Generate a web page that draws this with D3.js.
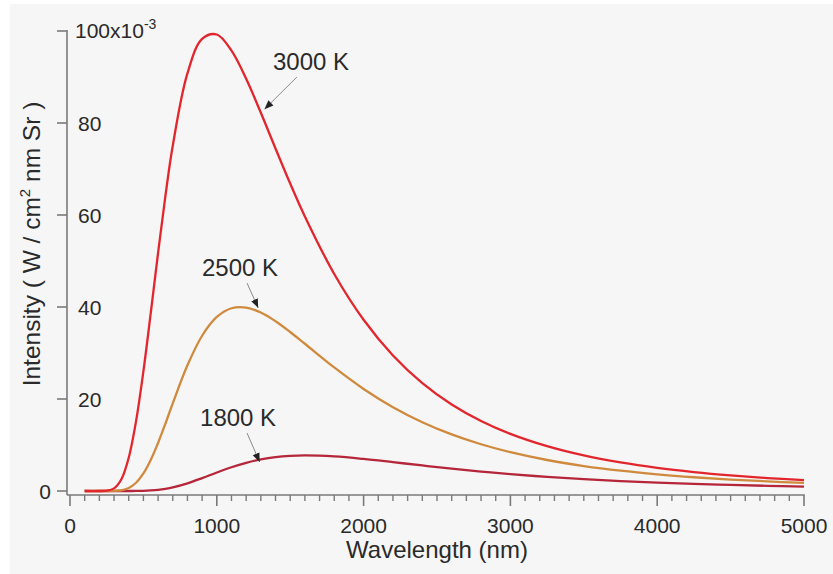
<!DOCTYPE html>
<html>
<head>
<meta charset="utf-8">
<script src="https://cdn.jsdelivr.net/npm/d3@7"></script>
<style>
  html, body { margin: 0; padding: 0; background: #ffffff; }
  svg { display: block; }
  text { font-family: "Liberation Sans", Arial, sans-serif; fill: #2a2a2a; }
</style>
</head>
<body>
<svg id="chart" width="833" height="574"></svg>
<script>
// Wavelength samples (nm)
const wavelengths = [100, 200, 250, 300, 350, 400, 450, 500, 550, 600, 650, 700, 800, 900,
  1000, 1100, 1200, 1300, 1400, 1500, 1600, 1800, 2000, 2200, 2400, 2600, 2800, 3000,
  3250, 3500, 3750, 4000, 4250, 4500, 4750, 5000];

// Spectral radiance, units of 1e-3 W / (cm^2 nm sr)
const intensity3000 = [0, 0, 0.06, 0.56, 2.54, 7.22, 15.18, 26.02, 38.65, 51.75, 64.16, 75.06, 90.78, 98.30,
  99.24, 95.73, 89.62, 82.23, 74.46, 66.84, 59.68, 47.18, 37.22, 29.46, 23.46, 18.82, 15.23, 12.42,
  9.74, 7.72, 6.20, 5.02, 4.11, 3.39, 2.82, 2.37];
const intensity2500 = [0, 0, 0, 0.02, 0.16, 0.66, 1.80, 3.82, 6.76, 10.46, 14.66, 19.05, 27.32, 33.75,
  37.83, 39.73, 39.88, 38.80, 36.91, 34.57, 32.01, 26.86, 22.19, 18.23, 14.96, 12.30, 10.16, 8.44,
  6.74, 5.43, 4.41, 3.62, 2.99, 2.49, 2.09, 1.76];
const intensity1800 = [0, 0, 0, 0, 0, 0, 0.01, 0.04, 0.12, 0.25, 0.47, 0.78, 1.66, 2.80,
  4.02, 5.17, 6.13, 6.87, 7.37, 7.64, 7.74, 7.52, 6.97, 6.27, 5.55, 4.86, 4.23, 3.67,
  3.07, 2.57, 2.16, 1.82, 1.55, 1.32, 1.12, 0.97];

const seriesNames = ["3000 K", "2500 K", "1800 K"];
const seriesColors = ["#e2262e", "#cf8a3e", "#b5263a"];

// Axis ticks
const xTicks = [0, 1000, 2000, 3000, 4000, 5000];
const yTicks = [0, 20, 40, 60, 80, 100];

// Annotation label: text anchor point and arrow (start -> tip), in data units
const labelText = ["3000 K", "2500 K", "1800 K"];
const labelAt = [[1383, 91.6], [899, 46.8], [886, 14.2]];
const arrowFrom = [[1546, 90.0], [1206, 45.2], [1206, 12.6]];
const arrowTo = [[1325, 83.0], [1282, 39.8], [1292, 6.3]];

const svg = d3.select("#chart");

// Panel background
svg.append("rect").attr("x", 10).attr("y", 4).attr("width", 823).attr("height", 570)
  .attr("fill", "#f6f6f6");

const x = d3.scaleLinear().domain([0, 5000]).range([70, 804]);
const y = d3.scaleLinear().domain([0, 100]).range([491, 31]);

const axisColor = "#7a7a7a";
const axisX0 = 67, axisY0 = 495;

// Y axis line and ticks
svg.append("line").attr("x1", axisX0).attr("x2", axisX0)
  .attr("y1", y(100) - 1).attr("y2", axisY0)
  .attr("stroke", axisColor).attr("stroke-width", 1.6);
svg.selectAll(".ytick").data(yTicks).enter().append("line")
  .attr("x1", axisX0 - 10).attr("x2", axisX0)
  .attr("y1", d => y(d)).attr("y2", d => y(d))
  .attr("stroke", axisColor).attr("stroke-width", 1.6);

// Y tick labels: zero sits left of the axis, the rest to the right
yTicks.forEach(t => {
  if (t === 0) {
    svg.append("text").attr("x", 51).attr("y", y(t) + 7.5)
      .attr("text-anchor", "end").attr("font-size", 21).text("0");
  } else if (t === 100) {
    const tx = svg.append("text").attr("x", 75).attr("y", y(t) + 7)
      .attr("text-anchor", "start").attr("font-size", 21);
    tx.append("tspan").text("100x10");
    tx.append("tspan").attr("font-size", 14).attr("dy", -9).text("-3");
  } else {
    svg.append("text").attr("x", 78).attr("y", y(t) + 7.5)
      .attr("text-anchor", "start").attr("font-size", 21).text(t);
  }
});

// X axis line, major and minor ticks
svg.append("line").attr("x1", axisX0).attr("x2", x(5000) + 0.8)
  .attr("y1", axisY0).attr("y2", axisY0)
  .attr("stroke", axisColor).attr("stroke-width", 1.6);
const minorTicks = d3.range(0, 5001, 100).filter(v => v % 1000 !== 0);
svg.selectAll(".xminor").data(minorTicks).enter().append("line")
  .attr("x1", d => x(d)).attr("x2", d => x(d))
  .attr("y1", axisY0).attr("y2", axisY0 + 6)
  .attr("stroke", axisColor).attr("stroke-width", 1.4);
svg.selectAll(".xmajor").data(xTicks).enter().append("line")
  .attr("x1", d => x(d)).attr("x2", d => x(d))
  .attr("y1", axisY0).attr("y2", axisY0 + 11)
  .attr("stroke", axisColor).attr("stroke-width", 1.6);
svg.selectAll(".xlabel").data(xTicks).enter().append("text")
  .attr("x", d => x(d)).attr("y", 533)
  .attr("text-anchor", "middle").attr("font-size", 21)
  .text(d => d);

// Axis titles
svg.append("text").attr("x", 437).attr("y", 558)
  .attr("text-anchor", "middle").attr("font-size", 24)
  .text("Wavelength (nm)");
const yt = svg.append("text")
  .attr("transform", "translate(40,244) rotate(-90)")
  .attr("text-anchor", "middle").attr("font-size", 24.5);
yt.append("tspan").text("Intensity ( W / cm");
yt.append("tspan").attr("font-size", 15).attr("dy", -10).text("2");
yt.append("tspan").attr("dy", 10).text(" nm Sr )");

// Curves
const series = [intensity3000, intensity2500, intensity1800];
const line = d3.line()
  .x((d, i) => x(wavelengths[i]))
  .y(d => y(Math.max(0, d)))
  .curve(d3.curveCatmullRom.alpha(0.5));
// Draw coolest first so the hotter curves lie on top
[2, 1, 0].forEach(k => {
  svg.append("path").datum(series[k])
    .attr("d", line)
    .attr("fill", "none")
    .attr("stroke", seriesColors[k])
    .attr("stroke-width", 2.3)
    .attr("stroke-linejoin", "round");
});

// Annotation arrows and labels
const defs = svg.append("defs");
defs.append("marker").attr("id", "arrowhead")
  .attr("viewBox", "0 0 10 10").attr("refX", 10).attr("refY", 5)
  .attr("markerWidth", 9).attr("markerHeight", 9)
  .attr("markerUnits", "userSpaceOnUse")
  .attr("orient", "auto")
  .append("path").attr("d", "M0,1 L10,5 L0,9 Z").attr("fill", "#222");

labelText.forEach((t, i) => {
  svg.append("line")
    .attr("x1", x(arrowFrom[i][0])).attr("y1", y(arrowFrom[i][1]))
    .attr("x2", x(arrowTo[i][0])).attr("y2", y(arrowTo[i][1]))
    .attr("stroke", "#8a8a8a").attr("stroke-width", 1)
    .attr("marker-end", "url(#arrowhead)");
  svg.append("text")
    .attr("x", x(labelAt[i][0])).attr("y", y(labelAt[i][1]))
    .attr("text-anchor", "start").attr("font-size", 24)
    .text(t);
});
</script>
</body>
</html>
